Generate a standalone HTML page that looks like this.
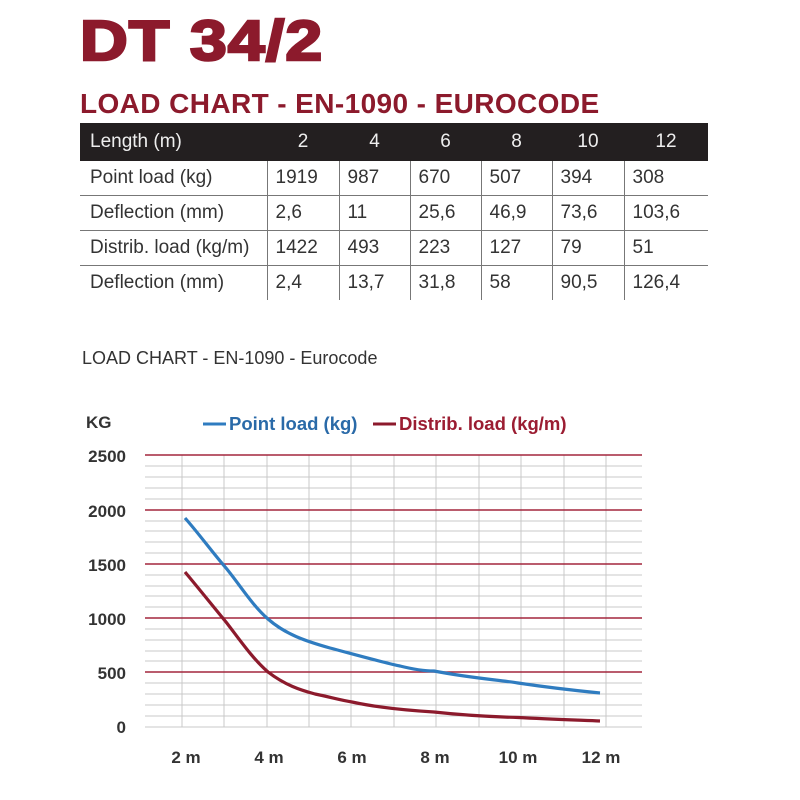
<!DOCTYPE html>
<html><head><meta charset="utf-8"><style>
body{margin:0;width:800px;height:800px;background:#fff;font-family:"Liberation Sans",sans-serif;position:relative;overflow:hidden}
.t1{position:absolute;left:80px;top:8px;font-size:57px;font-weight:900;color:#8c1a2c;letter-spacing:1px;-webkit-text-stroke:2.5px #8c1a2c;transform:scaleX(1.16);transform-origin:left top}
.t2{position:absolute;left:80px;top:88px;font-size:28px;font-weight:bold;color:#8c1a2c;letter-spacing:0.4px}
table{position:absolute;left:80px;top:123px;border-collapse:collapse;width:628px;font-size:19px;color:#333}
th{background:#231f20;color:#eee;font-weight:normal;height:38px;text-align:center;padding:0}
th:first-child{text-align:left;padding-left:10px}
td{height:34px;padding:0 0 0 8px;border-bottom:1px solid #777;border-left:1px solid #777}
td:first-child{border-left:none;padding-left:10px}
tr:last-child td{border-bottom:none}
.sub{position:absolute;left:82px;top:348px;font-size:18px;color:#333}
</style></head><body>
<div class="t1">DT 34/2</div>
<div class="t2">LOAD CHART - EN-1090 - EUROCODE</div>
<table>
<tr><th style="width:177px">Length (m)</th><th style="width:72px">2</th><th style="width:71px">4</th><th style="width:71px">6</th><th style="width:71px">8</th><th style="width:72px">10</th><th>12</th></tr>
<tr><td>Point load (kg)</td><td>1919</td><td>987</td><td>670</td><td>507</td><td>394</td><td>308</td></tr>
<tr><td>Deflection (mm)</td><td>2,6</td><td>11</td><td>25,6</td><td>46,9</td><td>73,6</td><td>103,6</td></tr>
<tr><td>Distrib. load (kg/m)</td><td>1422</td><td>493</td><td>223</td><td>127</td><td>79</td><td>51</td></tr>
<tr><td>Deflection (mm)</td><td>2,4</td><td>13,7</td><td>31,8</td><td>58</td><td>90,5</td><td>126,4</td></tr>
</table>
<div class="sub">LOAD CHART - EN-1090 - Eurocode</div>
<svg width="800" height="800" style="position:absolute;left:0;top:0" font-family="Liberation Sans, sans-serif">
<g stroke="#c8c8c8" stroke-width="1">
<line x1="145" x2="642" y1="466" y2="466"/><line x1="145" x2="642" y1="477" y2="477"/><line x1="145" x2="642" y1="488" y2="488"/><line x1="145" x2="642" y1="499" y2="499"/>
<line x1="145" x2="642" y1="521" y2="521"/><line x1="145" x2="642" y1="531" y2="531"/><line x1="145" x2="642" y1="542" y2="542"/><line x1="145" x2="642" y1="553" y2="553"/>
<line x1="145" x2="642" y1="575" y2="575"/><line x1="145" x2="642" y1="586" y2="586"/><line x1="145" x2="642" y1="596" y2="596"/><line x1="145" x2="642" y1="607" y2="607"/>
<line x1="145" x2="642" y1="629" y2="629"/><line x1="145" x2="642" y1="640" y2="640"/><line x1="145" x2="642" y1="651" y2="651"/><line x1="145" x2="642" y1="661" y2="661"/>
<line x1="145" x2="642" y1="683" y2="683"/><line x1="145" x2="642" y1="694" y2="694"/><line x1="145" x2="642" y1="705" y2="705"/><line x1="145" x2="642" y1="716" y2="716"/>
<line x1="145" x2="642" y1="727" y2="727"/>
<line x1="182" x2="182" y1="455" y2="727"/><line x1="224" x2="224" y1="455" y2="727"/><line x1="267" x2="267" y1="455" y2="727"/><line x1="309" x2="309" y1="455" y2="727"/><line x1="351" x2="351" y1="455" y2="727"/><line x1="394" x2="394" y1="455" y2="727"/><line x1="436" x2="436" y1="455" y2="727"/><line x1="479" x2="479" y1="455" y2="727"/><line x1="521" x2="521" y1="455" y2="727"/><line x1="564" x2="564" y1="455" y2="727"/><line x1="606" x2="606" y1="455" y2="727"/>
</g>
<g stroke="#a3263d" stroke-width="1.6">
<line x1="145" x2="642" y1="455" y2="455"/><line x1="145" x2="642" y1="510" y2="510"/><line x1="145" x2="642" y1="564" y2="564"/><line x1="145" x2="642" y1="618" y2="618"/><line x1="145" x2="642" y1="672" y2="672"/>
</g>
<text x="86" y="428" font-size="17" font-weight="bold" fill="#333">KG</text>
<g font-size="17" font-weight="bold" fill="#333" text-anchor="end">
<text x="126" y="462">2500</text><text x="126" y="517">2000</text><text x="126" y="571">1500</text><text x="126" y="625">1000</text><text x="126" y="679">500</text><text x="126" y="733">0</text>
</g>
<g font-size="17" font-weight="bold" fill="#333" text-anchor="middle">
<text x="186" y="763">2 m</text><text x="269" y="763">4 m</text><text x="352" y="763">6 m</text><text x="435" y="763">8 m</text><text x="518" y="763">10 m</text><text x="601" y="763">12 m</text>
</g>
<line x1="203" x2="226" y1="424" y2="424" stroke="#2f7cc0" stroke-width="3"/>
<text x="229" y="430" font-size="18.5" font-weight="bold" fill="#2a6aa8">Point load (kg)</text>
<line x1="373" x2="396" y1="424" y2="424" stroke="#8c1a2c" stroke-width="3"/>
<text x="399" y="430" font-size="18.5" font-weight="bold" fill="#9b1d32">Distrib. load (kg/m)</text>
<path d="M185,518 C200,535 212,552 226,568 C240,585 252,605 268,619 C285,634 305,641 330,648 C360,656 385,663 400,666 C420,671 430,671 434,671 C470,678 500,680 518,683 C545,687 570,690 600,693" fill="none" stroke="#2f7cc0" stroke-width="3.2"/>
<path d="M185,572 C200,590 212,605 226,622 C240,640 252,658 268,672 C285,685 300,690 315,694 C330,697 340,700 352,702 C375,707 400,710 434,712 C470,716 500,717 518,717.5 C545,719 575,720 600,721" fill="none" stroke="#8c1a2c" stroke-width="3.2"/>
</svg>
</body></html>
